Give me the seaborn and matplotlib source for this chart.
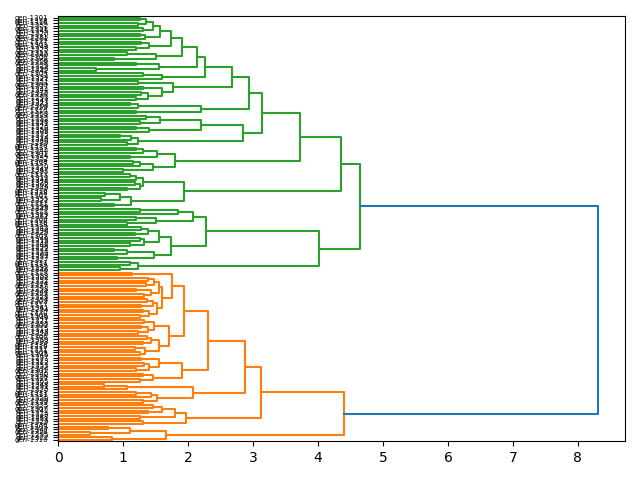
import matplotlib
matplotlib.use("Agg")
import matplotlib.pyplot as plt
import numpy as np
import pandas as pd
import seaborn as sns

# ---- tree data: leaf = x, internal node = (lower,upper):merge_height ----
# orange cluster (bottom)
B = "((x,x):0.83,((x,x):0.49,(x,x):0.77):1.11):1.65"
A1 = "((x,x):1.30,((x,x):1.25,((x,x):1.38,(x,x):1.45):1.60):1.80):1.96"
A21 = "(((x,x):1.30,(x,(x,x):1.20):1.42):1.52,(x,(x,x):0.70):1.06):2.08"
A22a = "(((x,x):1.25,(x,x):1.30):1.45,(((x,x):1.20,(x,x):1.32):1.40,(x,x):1.28):1.55):1.91"
L = ("((((x,x):1.25,(x,x):1.18):1.33,((x,x):1.30,(x,x):1.36):1.42):1.55,"
     "(((x,x):1.22,(x,x):1.28):1.38,(x,x):1.32):1.47):1.70")
U1 = ("((((x,x):1.25,(x,x):1.30):1.40,((x,x):1.28,(x,x):1.36):1.45):1.52,"
      "(((x,x):1.32,(x,x):1.20):1.42,((x,x):1.35,(x,x):1.38):1.48):1.55):1.60")
# green cluster (top)
G11 = "((x,x):0.95,(x,x):1.11):1.23"
G12a = "(((x,x):0.90,(x,(x,x):0.85):1.05):1.47,(((x,x):1.10,(x,x):1.25):1.32,((x,x):1.18,(x,x):1.28):1.38):1.55):1.73"
G12b = "(((x,x):1.05,(x,x):1.20):1.50,(x,(x,x):1.25):1.85):2.08"
G21 = "(((x,x):0.85,((x,x):0.65,(x,x):0.72):0.95):1.12,(((x,x):1.05,(x,x):1.18):1.25,(x,(x,x):1.10):1.20):1.31):1.93"
G22a = "(((x,x):1.00,(x,(x,x):1.15):1.25):1.45,((x,x):1.10,(x,(x,x):1.20):1.30):1.52):1.80"
C123 = "((x,x):1.05,(x,(x,x):0.95):1.12):1.23"
C139 = "(x,(x,x):1.20):1.39"
C157 = "((x,x):1.25,(x,x):1.35):1.57"
C120 = "(x,x):1.20"
C123b = "(x,(x,x):1.10):1.23"
C177 = "((((x,x):1.20,(x,x):1.28):1.38,(x,x):1.30):1.59,(x,x):1.22):1.77"
C160 = "(x,(x,x):1.30):1.60"
S1 = "((x,x):0.58,(x,x):1.20):1.55"
S2 = "((x,x):0.85,(x,x):1.05):1.50"
S3 = "((x,x):1.20,(x,x):1.28):1.40"
S4 = "(x,(x,x):1.25):1.33"
S5 = "(x,x):1.30"
S6 = "((x,x):1.22,(x,x):1.26):1.35"

N146 = f"({S5},{S6}):1.46"
N157 = f"({S4},{N146}):1.57"
N173 = f"({S3},{N157}):1.73"
N191 = f"({S2},{N173}):1.91"
N214 = f"({S1},{N191}):2.14"
N226 = f"({C160},{N214}):2.26"
N268 = f"({C177},{N226}):2.68"
N220 = f"({C120},{C123b}):2.20"
N294 = f"({N220},{N268}):2.94"
N219 = f"({C139},{C157}):2.19"
N284 = f"({C123},{N219}):2.84"
N314 = f"({N284},{N294}):3.14"
N372 = f"({G22a},{N314}):3.72"
N436 = f"({G21},{N372}):4.36"
G12 = f"({G12a},{G12b}):2.28"
G1 = f"({G11},{G12}):4.02"
GREEN = f"({G1},{N436}):4.65"

U = f"({U1},(x,x):1.14):1.75"
A22b = f"({L},{U}):1.93"
A22 = f"({A22a},{A22b}):2.31"
A2 = f"({A21},{A22}):2.87"
A = f"({A1},{A2}):3.12"
ORANGE = f"({B},{A}):4.40"
TREE = f"({ORANGE},{GREEN}):8.31"

LABEL_PREFIX = "gen-"
LABEL_NUMBERS = ("1310 1322 1295 1318 1347 1303 1336 1329 1351 1288 1314 1342 1307 1325 1339 1299 1356 1311 1333 1320 "
                 "1291 1348 1305 1327 1316 1340 1301 1334 1353 1312 1323 1297 1345 1309 1331 1319 1338 1293 1350 1306 "
                 "1326 1343 1315 1300 1335 1321 1349 1308 1330 1294 1341 1317 1303 1354 1328 1313 1344 1298 1337 1324 "
                 "1352 1302 1332 1319 1346 1292 1339 1311 1327 1357 1304 1334 1322 1296 1348 1315 1340 1309 1325 1290 "
                 "1343 1318 1336 1306 1351 1329 1313 1345 1299 1331 1321 1355 1307 1338 1316 1349 1302 1328 1342 1312 "
                 "1333 1295 1347 1320 1337 1308 1352 1324 1301 1344 1317 1330 1289 1346 1314 1335 1305 1350 1326 1341 "
                 "1298 1332 1319 1353 1310 1339 1304 1323 1347 1293 1336 1315 1344 1327 1300 1351 1321 1334 1309 1342 "
                 "1296 1329 1318 1356 1306 1340 1313 1325 1349 1303 1337 1292 1331 1320 1345 1311 1352 1316 1338 1301").split()

CLUSTER_COLORS = ["C1", "C2", "C3", "C4"]
ABOVE_COLOR = "C0"


def parse(s):
    pos = 0

    def node():
        nonlocal pos
        if s[pos] == "x":
            pos += 1
            return ("leaf",)
        pos += 1  # (
        left = node()
        pos += 1  # ,
        right = node()
        pos += 1  # )
        pos += 1  # :
        j = pos
        while pos < len(s) and (s[pos].isdigit() or s[pos] == "."):
            pos += 1
        return ("node", float(s[j:pos]), left, right)

    return node()


root = parse(TREE)
max_h = root[1]
threshold = 0.7 * max_h

rows = []
leaf_counter = [0]
link_counter = [0]
cluster_counter = [0]


def layout(n, color):
    if n[0] == "leaf":
        y = 5 + 10 * leaf_counter[0]
        leaf_counter[0] += 1
        return y, 0.0
    h = n[1]
    if h < threshold and color is None:
        color = CLUSTER_COLORS[cluster_counter[0] % len(CLUSTER_COLORS)]
        cluster_counter[0] += 1
    own = color if h < threshold else ABOVE_COLOR
    y1, h1 = layout(n[2], color)
    y2, h2 = layout(n[3], color)
    lid = link_counter[0]
    link_counter[0] += 1
    for xx, yy in zip([h1, h, h, h2], [y1, y1, y2, y2]):
        rows.append({"x": xx, "y": yy, "link": lid, "col": own})
    return (y1 + y2) / 2, h


layout(root, None)
n_leaves = leaf_counter[0]
df = pd.DataFrame(rows)

fig, ax = plt.subplots(figsize=(6.4, 4.8), dpi=100)
pal = {c: c for c in df["col"].unique()}
sns.lineplot(data=df, x="x", y="y", units="link", hue="col", palette=pal,
             estimator=None, sort=False, legend=False, linewidth=1.5, ax=ax)
ax.set_xlim(0, max_h * 1.05)
ax.set_ylim(0, n_leaves * 10)
ax.set_yticks(5 + 10 * np.arange(n_leaves))
labels = [LABEL_PREFIX + LABEL_NUMBERS[i % len(LABEL_NUMBERS)] for i in range(n_leaves)]
ax.set_yticklabels(labels, fontsize=5)
ax.set_xlabel("")
ax.set_ylabel("")
plt.tight_layout()
fig.savefig("out.png", dpi=100)
